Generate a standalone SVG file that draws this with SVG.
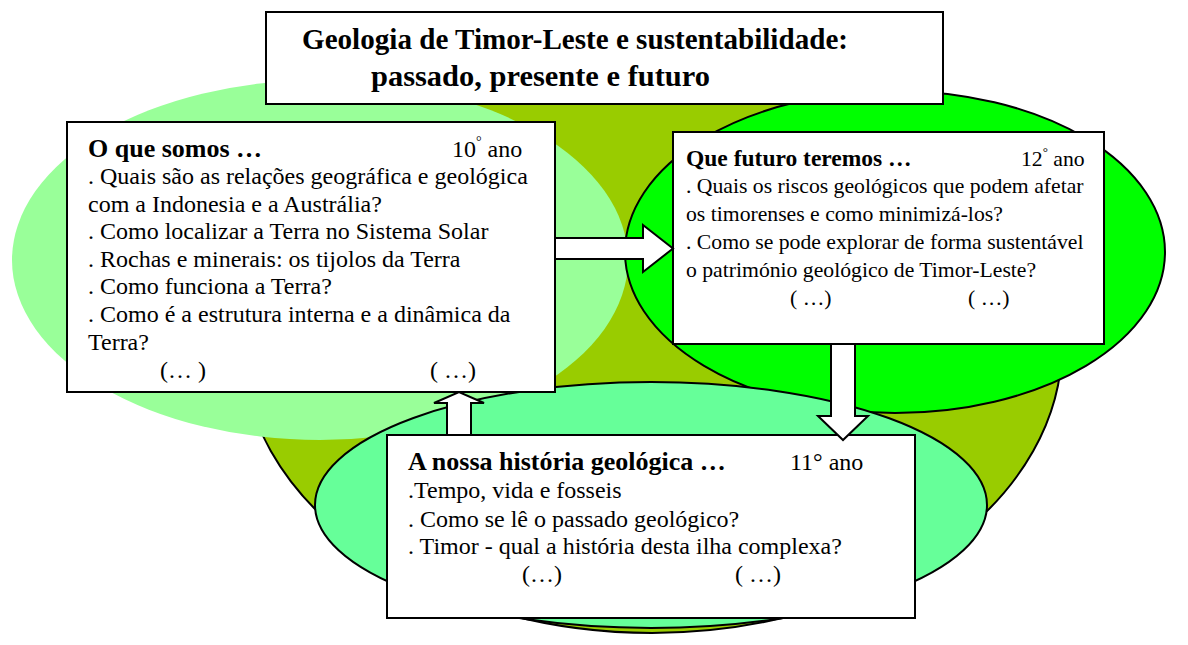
<svg xmlns="http://www.w3.org/2000/svg" width="1188" height="645" viewBox="0 0 1188 645">
<style>
.box{fill:#fff;stroke:#000;stroke-width:2}
.arr{fill:#fff;stroke:#000;stroke-width:2;stroke-linejoin:miter}
.t{font-family:"Liberation Serif","Times New Roman",serif;fill:#000}
.h{font-weight:bold}
.b{font-size:24px}
.r{font-size:21.7px}
</style>
<rect width="1188" height="645" fill="#fff"/>
<g id="backgrounds">
<ellipse cx="652" cy="345" rx="410" ry="288" fill="#99CC00" stroke="#000" stroke-width="2"/>
<ellipse cx="320" cy="260" rx="308" ry="180" fill="#99FF99"/>
<ellipse cx="895" cy="252" rx="270" ry="161" fill="#00FF00" stroke="#000" stroke-width="2"/>
<ellipse cx="651" cy="505" rx="336" ry="123" fill="#66FF99" stroke="#000" stroke-width="2"/>
</g>
<g id="title">
<rect class="box" x="266" y="12" width="677" height="92"/>
<text class="t h" x="302" y="49" font-size="29.5" textLength="546" lengthAdjust="spacingAndGlyphs">Geologia de Timor-Leste e sustentabilidade:</text>
<text class="t h" x="371" y="86" font-size="29.5" textLength="339" lengthAdjust="spacingAndGlyphs">passado, presente e futuro</text>
</g>
<g id="node-10ano">
<rect class="box" x="67" y="122" width="488" height="270"/>
<text class="t h" x="88" y="157" font-size="26">O que somos …</text>
<text class="t b" x="452" y="157">10<tspan font-size="14" dy="-11">°</tspan><tspan dy="11"> ano</tspan></text>
<text class="t b" x="88" y="184">. Quais são as relações geográfica e geológica</text>
<text class="t b" x="88" y="212">com a Indonesia e a Austrália?</text>
<text class="t b" x="88" y="239">. Como localizar a Terra no Sistema Solar</text>
<text class="t b" x="88" y="267">. Rochas e minerais: os tijolos da Terra</text>
<text class="t b" x="88" y="294">. Como funciona a Terra?</text>
<text class="t b" x="88" y="322">. Como é a estrutura interna e a dinâmica da</text>
<text class="t b" x="88" y="350">Terra?</text>
<text class="t b" x="160" y="378">(… )</text>
<text class="t b" x="430" y="378">( …)</text>
</g>
<g id="node-12ano">
<rect class="box" x="673" y="132" width="431" height="212"/>
<text class="t h" x="686" y="166" font-size="23.5">Que futuro teremos …</text>
<text class="t r" x="1021" y="166">12<tspan font-size="13" dy="-10">°</tspan><tspan dy="10"> ano</tspan></text>
<text class="t r" x="686" y="193">. Quais os riscos geológicos que podem afetar</text>
<text class="t r" x="686" y="221">os timorenses e como minimizá-los?</text>
<text class="t r" x="686" y="249">. Como se pode explorar de forma sustentável</text>
<text class="t r" x="686" y="277">o património geológico de Timor-Leste?</text>
<text class="t r" x="790" y="305">( …)</text>
<text class="t r" x="968" y="305">( …)</text>
</g>
<g id="node-11ano">
<rect class="box" x="387" y="435" width="528" height="183"/>
<text class="t h" x="408" y="470" font-size="26">A nossa história geológica …</text>
<text class="t b" x="790" y="470">11° ano</text>
<text class="t b" x="408" y="498">.Tempo, vida e fosseis</text>
<text class="t b" x="408" y="527">. Como se lê o passado geológico?</text>
<text class="t b" x="408" y="554">. Timor - qual a história desta ilha complexa?</text>
<text class="t b" x="522" y="582">(…)</text>
<text class="t b" x="735" y="582">( …)</text>
</g>
<g id="connectors">
<polygon class="arr" points="555,238 643,238 643,225 673,248.5 643,272 643,259 555,259"/>
<polygon class="arr" points="831,344 855,344 855,416 868,416 843,440 818,416 831,416"/>
<polygon class="arr" points="447,435 447,403 434,403 459,392 484,403 471,403 471,435"/>
</g>
</svg>
